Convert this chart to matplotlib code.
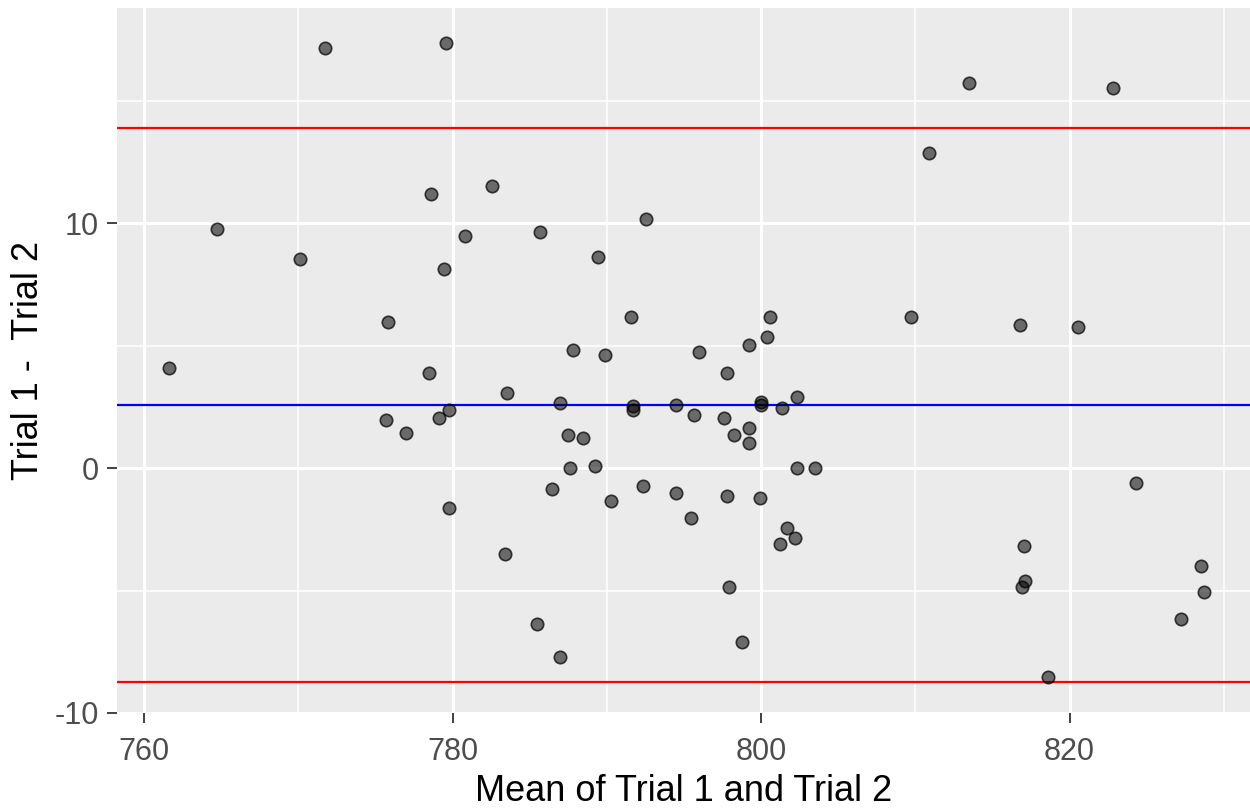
import matplotlib
matplotlib.use("Agg")
import matplotlib.pyplot as plt
import numpy as np

# Bland-Altman data
mean_trials = [
    771.75, 779.61, 778.60, 782.57, 764.71, 770.11, 780.78, 779.44, 785.66, 789.44,
    792.55, 813.48, 822.81, 810.86, 775.85, 761.62, 778.47, 783.54, 779.76, 779.11,
    775.68, 777.00, 779.76, 791.56, 800.56, 809.72, 800.39, 799.25, 787.80, 789.91,
    795.96, 797.78, 786.98, 791.70, 791.70, 794.51, 800.02, 800.02, 801.36, 802.36,
    795.66, 797.60, 799.25, 798.27, 799.25, 787.47, 788.47, 787.62, 789.27, 802.36,
    803.50, 786.48, 792.35, 790.26, 794.52, 797.78, 799.91, 795.49, 801.71, 802.18,
    801.21, 783.39, 797.93, 785.51, 798.77, 786.98, 816.76, 820.52, 824.28, 817.06,
    817.10, 816.91, 818.58, 828.53, 828.70, 827.24,
]
diff_trials = [
    17.18, 17.39, 11.22, 11.53, 9.78, 8.55, 9.47, 8.14, 9.67, 8.65,
    10.19, 15.74, 15.54, 12.86, 5.96, 4.11, 3.90, 3.09, 2.38, 2.07,
    1.95, 1.45, -1.64, 6.17, 6.17, 6.17, 5.35, 5.04, 4.84, 4.63,
    4.74, 3.90, 2.67, 2.53, 2.37, 2.57, 2.71, 2.57, 2.47, 2.89,
    2.17, 2.06, 1.65, 1.36, 1.04, 1.36, 1.25, 0.00, 0.11, 0.00,
    0.00, -0.83, -0.72, -1.33, -1.03, -1.14, -1.23, -2.05, -2.45, -2.87,
    -3.08, -3.50, -4.84, -6.37, -7.09, -7.71, 5.87, 5.76, -0.61, -3.18,
    -4.61, -4.84, -8.54, -4.01, -5.04, -6.17,
]
mean_diff = 2.575
upper_loa = 13.89
lower_loa = -8.74

plt.rcParams['font.family'] = ['Liberation Sans', 'DejaVu Sans']

fig = plt.figure(figsize=(12.5, 8.09), dpi=100)
ax = fig.add_axes([0.0936, 0.1187, 0.9064, 0.8713])

ax.set_facecolor('#EBEBEB')
for side in ax.spines.values():
    side.set_visible(False)

ax.scatter(mean_trials, diff_trials, s=80, facecolor=(0, 0, 0, 0.55),
           edgecolor=(0, 0, 0, 0.72), linewidth=1.2, zorder=3)

ax.axhline(mean_diff, color='#0000FF', lw=1.6, zorder=2)
ax.axhline(upper_loa, color='#FF0000', lw=1.6, zorder=2)
ax.axhline(lower_loa, color='#FF0000', lw=1.6, zorder=2)

ax.set_xlim(758.25, 831.7)
ax.set_ylim(-9.9, 18.8)

ax.set_xticks([760, 780, 800, 820])
ax.set_xticks([770, 790, 810, 830], minor=True)
ax.set_yticks([-10, 0, 10])
ax.set_yticklabels(['-10', '0', '10'])
ax.set_yticks([-5, 5, 15], minor=True)

ax.grid(which='major', color='white', lw=2.2, zorder=0)
ax.grid(which='minor', color='white', lw=1.1, zorder=0)
ax.set_axisbelow(True)

ax.tick_params(which='major', length=7, width=1.3, color='#333333',
               labelcolor='#4D4D4D', labelsize=22)
ax.tick_params(axis='x', pad=10)
ax.tick_params(axis='y', pad=6)
ax.tick_params(which='minor', length=0)

ax.set_xlabel('Mean of Trial 1 and Trial 2', fontsize=26, labelpad=5)
ax.set_ylabel('Trial 1 -  Trial 2', fontsize=26, labelpad=6)

fig.savefig('out.png', dpi=100)
